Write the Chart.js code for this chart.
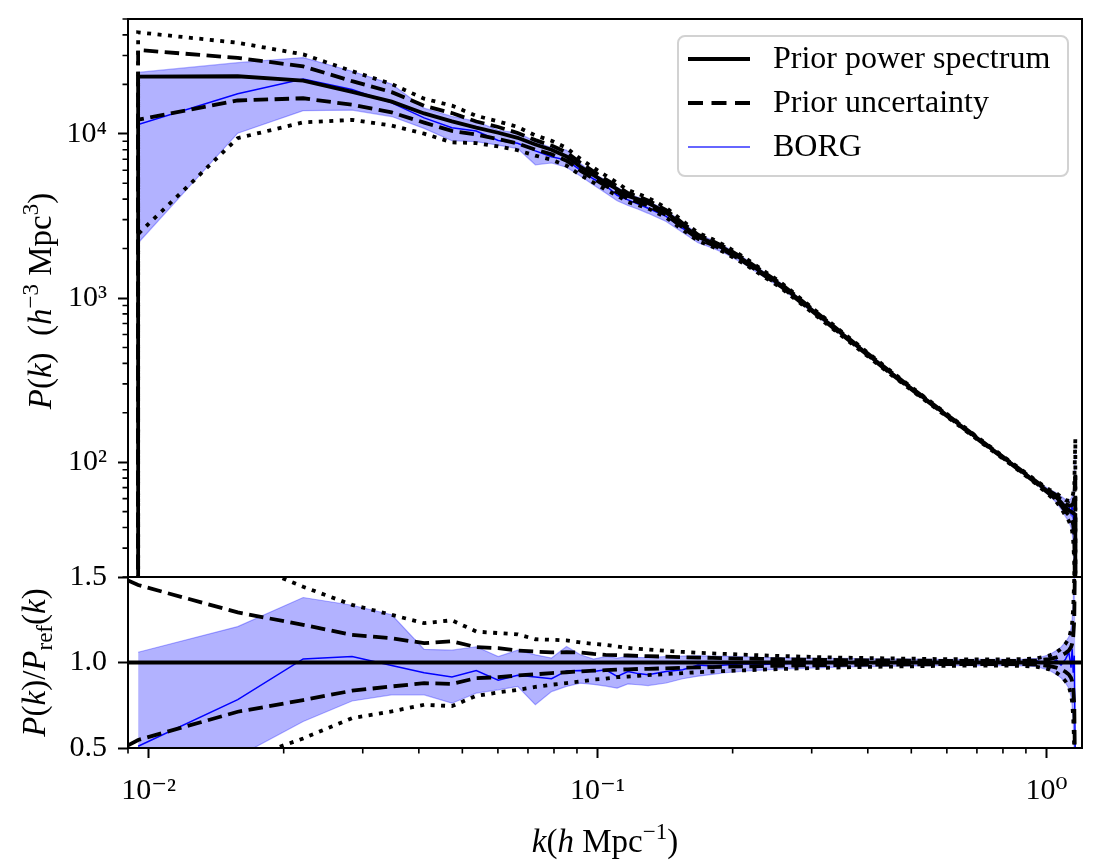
<!DOCTYPE html>
<html>
<head>
<meta charset="utf-8">
<script src="https://cdn.jsdelivr.net/npm/chart.js@4.4.1/dist/chart.umd.min.js"></script>
<style>
  html, body { margin: 0; padding: 0; background: #ffffff; }
  #wrap { position: relative; width: 1104px; height: 862px; background: #ffffff; overflow: hidden; }
  #topChart { position: absolute; left: 0; top: 0; width: 1104px; height: 578px; }
  #ratioChart { position: absolute; left: 0; top: 550px; width: 1104px; height: 312px; }
</style>
</head>
<body>
<div id="wrap">
  <canvas id="topChart" width="1104" height="578"></canvas>
  <canvas id="ratioChart" width="1104" height="312"></canvas>
</div>
<script>
// ---------------- DATA ----------------
// wavenumber bins k (h/Mpc)
const kBins = [0.00948, 0.0158, 0.0221, 0.0284, 0.0348, 0.0411, 0.0474, 0.0537, 0.0601, 0.0664,
               0.0727, 0.0790, 0.0853, 0.0916, 0.0980, 0.1043, 0.1106, 0.1169, 0.1232, 0.1296,
               0.1422, 0.1548, 0.1675, 0.1801, 0.1928, 0.2117, 0.2307, 0.2560, 0.2876, 0.3192,
               0.3571, 0.4013, 0.4456, 0.5088, 0.5720, 0.6352, 0.7110, 0.7932, 0.8880, 0.9512,
               1.0144, 1.0523, 1.0776, 1.1029, 1.1218, 1.1344, 1.1408, 1.1471, 1.1534, 1.1597];

// prior (reference) power spectrum P_ref(k) in h^-3 Mpc^3
const priorPk = [22300, 22400, 21100, 18000, 15700, 13300, 11900, 10900, 10150, 9450,
                 8600, 8000, 7270, 6300, 5600, 5050, 4600, 4180, 3990, 3790,
                 3320, 2770, 2360, 2170, 1980, 1700, 1450, 1200, 930, 741,
                 580, 450, 358, 271, 213, 172, 136, 109, 86.5, 75,
                 65.5, 61, 57, 53, 51, 50, 49.5, 49, 48.5, 48];

// prior uncertainty (1 sigma, dashed) as ratio to P_ref
const priorUpper1 = [1.453, 1.293, 1.22, 1.162, 1.142, 1.113, 1.124, 1.09, 1.084, 1.07,
                     1.064, 1.059, 1.06, 1.058, 1.05, 1.045, 1.043, 1.041, 1.039, 1.037,
                     1.034, 1.031, 1.029, 1.027, 1.025, 1.023, 1.021, 1.019, 1.017, 1.015,
                     1.014, 1.013, 1.012, 1.011, 1.01, 1.01, 1.009, 1.009, 1.01, 1.012,
                     1.02, 1.03, 1.04, 1.055, 1.07, 1.09, 1.11, 1.15, 1.25, 1.8];
const priorLower1 = [0.547, 0.712, 0.78, 0.835, 0.86, 0.879, 0.875, 0.909, 0.914, 0.924,
                     0.931, 0.938, 0.943, 0.948, 0.952, 0.955, 0.958, 0.96, 0.962, 0.963,
                     0.966, 0.969, 0.971, 0.973, 0.975, 0.977, 0.979, 0.981, 0.983, 0.985,
                     0.986, 0.987, 0.988, 0.989, 0.99, 0.99, 0.991, 0.991, 0.99, 0.988,
                     0.98, 0.97, 0.96, 0.945, 0.93, 0.91, 0.89, 0.85, 0.75, 0.2];
// prior uncertainty (2 sigma, dotted) as ratio to P_ref
const priorUpper2 = [1.86, 1.60, 1.443, 1.337, 1.279, 1.23, 1.247, 1.181, 1.172, 1.165,
                     1.136, 1.133, 1.129, 1.117, 1.109, 1.103, 1.094, 1.085, 1.08, 1.076,
                     1.068, 1.062, 1.057, 1.053, 1.05, 1.046, 1.042, 1.038, 1.034, 1.031,
                     1.028, 1.026, 1.024, 1.022, 1.02, 1.019, 1.018, 1.018, 1.02, 1.025,
                     1.04, 1.06, 1.08, 1.11, 1.14, 1.19, 1.23, 1.32, 1.5, 2.9];
const priorLower2 = [0.11, 0.42, 0.556, 0.675, 0.714, 0.753, 0.745, 0.805, 0.825, 0.84,
                     0.857, 0.87, 0.88, 0.889, 0.9, 0.905, 0.914, 0.918, 0.922, 0.926,
                     0.932, 0.938, 0.943, 0.947, 0.95, 0.954, 0.958, 0.962, 0.966, 0.969,
                     0.972, 0.974, 0.976, 0.978, 0.98, 0.981, 0.982, 0.982, 0.98, 0.975,
                     0.96, 0.94, 0.92, 0.89, 0.86, 0.81, 0.77, 0.68, 0.5, 0.02];

// BORG posterior mean and spread, as ratio to P_ref
const borgMean  = [0.51, 0.783, 1.021, 1.035, 0.982, 0.94, 0.915, 0.953, 0.897, 0.926,
                   0.915, 0.905, 0.951, 0.953, 0.947, 0.957, 0.918, 0.947, 0.935, 0.928,
                   0.947, 0.958, 0.985, 0.98, 0.986, 0.992, 0.988, 0.993, 0.996, 1.002,
                   1.0, 0.997, 1.003, 0.998, 1.002, 0.999, 1.003, 0.998, 1.004, 1.01,
                   0.99, 1.015, 0.985, 1.02, 1.06, 0.97, 1.08, 0.94, 1.04, 0.4];
const borgUpper = [1.06, 1.21, 1.38, 1.335, 1.279, 1.077, 1.072, 1.092, 1.035, 1.072,
                   1.045, 1.026, 1.094, 1.045, 1.02, 1.035, 1.026, 1.035, 1.03, 1.028,
                   1.035, 1.038, 1.04, 1.038, 1.036, 1.034, 1.03, 1.028, 1.026, 1.025,
                   1.024, 1.022, 1.021, 1.02, 1.019, 1.018, 1.018, 1.018, 1.02, 1.025,
                   1.045, 1.07, 1.09, 1.12, 1.15, 1.2, 1.25, 1.35, 1.55, 2.5];
const borgLower = [0.097, 0.45, 0.655, 0.775, 0.811, 0.811, 0.762, 0.821, 0.84, 0.86,
                   0.753, 0.83, 0.86, 0.879, 0.872, 0.862, 0.85, 0.875, 0.87, 0.865,
                   0.88, 0.905, 0.92, 0.93, 0.94, 0.95, 0.955, 0.962, 0.966, 0.97,
                   0.974, 0.976, 0.978, 0.98, 0.981, 0.982, 0.982, 0.982, 0.98, 0.975,
                   0.955, 0.93, 0.91, 0.88, 0.85, 0.8, 0.75, 0.66, 0.45, 0.02];

// value of the empty first/last bins (drawn as vertical drops on the log axis)
const emptyBinPower = 0.001;
// dashed prior band where it meets the left edge of the ratio panel
const ratioEdgeK = 0.009;
const ratioEdgeUpper1 = 1.48;
const ratioEdgeLower1 = 0.515;
// reference ratio line
const unityRatio = [1, 1];

// axes
const kRange = [0.009, 1.2];
const powerRange = [20, 50000];
const ratioRange = [0.5, 1.5];
const kMajorTicks = [0.01, 0.1, 1];
const kMajorLabels = ['10⁻²', '10⁻¹', '10⁰'];
const kMinorTicks = [0.009, 0.02, 0.03, 0.04, 0.05, 0.06, 0.07, 0.08, 0.09,
                     0.2, 0.3, 0.4, 0.5, 0.6, 0.7, 0.8, 0.9];
const powerMajorTicks = [100, 1000, 10000];
const powerMajorLabels = ['10²', '10³', '10⁴'];
const powerMinorTicks = [20, 30, 40, 50, 60, 70, 80, 90, 200, 300, 400, 500, 600, 700, 800, 900,
                         2000, 3000, 4000, 5000, 6000, 7000, 8000, 9000, 20000, 30000, 40000, 50000];
const ratioMajorTicks = [0.5, 1.0, 1.5];
const ratioMajorLabels = ['0.5', '1.0', '1.5'];

const legendLabels = ['Prior power spectrum', 'Prior uncertainty', 'BORG'];

// ---------------- STYLE ----------------
const FONT = "'Liberation Serif', 'Times New Roman', 'DejaVu Serif', serif";
const FS = 30;        // tick labels
const FS_TITLE = 33;  // axis titles
const FS_LEGEND = 32; // legend
const LW = 3.8;
const DASH = [14.5, 6.5];
const DOT = [4, 6.5];
const BLUE = 'rgb(0,0,255)';
const FILL = 'rgba(0,0,255,0.30)';

// ---------------- helpers ----------------
const pts = (vals) => kBins.map((k, i) => ({ x: k, y: vals[i] }));
const powerPts = (ratio) => kBins.map((k, i) => ({ x: k, y: priorPk[i] * ratio[i] }));
const withDrops = (arr) => [{ x: kBins[0], y: emptyBinPower }, ...arr,
                            { x: kBins[kBins.length - 1], y: emptyBinPower }];

function lineDs(data, color, width, dash, order, extra) {
  return Object.assign({
    data, borderColor: color, borderWidth: width, borderDash: dash || [],
    borderCapStyle: 'butt', borderJoinStyle: 'miter', pointRadius: 0, tension: 0,
    fill: false, order
  }, extra || {});
}

function tickSetter(majors, minors) {
  return (scale) => {
    scale.ticks = majors.map(v => ({ value: v, major: true }))
      .concat(minors.map(v => ({ value: v, major: false })));
  };
}
function labelFor(majors, labels) {
  return (value) => {
    const i = majors.findIndex(m => Math.abs(m - value) < 1e-9 * Math.max(1, m));
    return i >= 0 ? labels[i] : '';
  };
}
const majorTickColor = (c) => (c.tick && c.tick.major) ? '#000' : 'rgba(0,0,0,0)';

function drawRuns(ctx, runs, x, y, angle, size) {
  ctx.save();
  ctx.translate(x, y);
  ctx.rotate(angle);
  const fontFor = r => (r.it ? 'italic ' : '') + ((r.sup || r.sub) ? Math.round(size * 0.7) : size) + 'px ' + FONT;
  let total = 0;
  runs.forEach(r => { ctx.font = fontFor(r); r.w = ctx.measureText(r.t).width; total += r.w; });
  let cx = -total / 2;
  ctx.fillStyle = '#000';
  ctx.textAlign = 'left';
  ctx.textBaseline = 'alphabetic';
  runs.forEach(r => {
    ctx.font = fontFor(r);
    const dy = r.sup ? -size * 0.38 : (r.sub ? size * 0.22 : 0);
    ctx.fillText(r.t, cx, dy);
    cx += r.w;
  });
  ctx.restore();
}

// frame + minor ticks + titles
const decorPlugin = {
  id: 'decor',
  afterDraw(chart, args, opts) {
    const ctx = chart.ctx;
    const ca = chart.chartArea;
    ctx.save();
    ctx.strokeStyle = '#000';
    ctx.lineWidth = 1.6;
    ctx.beginPath();
    (opts.yMinor || []).forEach(v => {
      const py = chart.scales.y.getPixelForValue(v);
      ctx.moveTo(ca.left - 5.5, py); ctx.lineTo(ca.left, py);
    });
    (opts.xMinor || []).forEach(v => {
      const px = chart.scales.x.getPixelForValue(v);
      ctx.moveTo(px, ca.bottom); ctx.lineTo(px, ca.bottom + 5.5);
    });
    ctx.stroke();
    ctx.lineWidth = 2;
    ctx.strokeRect(ca.left, ca.top, ca.right - ca.left, ca.bottom - ca.top);
    ctx.restore();
    (opts.titles || []).forEach(t => {
      const p = t.at(ca);
      drawRuns(ctx, t.runs, p[0], p[1], t.angle, FS_TITLE);
    });
  }
};

const legendPlugin = {
  id: 'insetLegend',
  afterDraw(chart, args, opts) {
    if (!opts.show) return;
    const ctx = chart.ctx;
    const ca = chart.chartArea;
    const w = 390, h = 140;
    const x0 = ca.right - 14 - w, y0 = ca.top + 17;
    ctx.save();
    ctx.beginPath();
    ctx.roundRect(x0, y0, w, h, 7);
    ctx.fillStyle = 'rgba(255,255,255,0.85)';
    ctx.fill();
    ctx.lineWidth = 2;
    ctx.strokeStyle = '#d2d2d2';
    ctx.stroke();
    const styles = [
      { color: '#000', width: LW, dash: [] },
      { color: '#000', width: LW, dash: [15, 8.5] },
      { color: 'rgba(0,0,255,0.6)', width: 2, dash: [] }
    ];
    legendLabels.forEach((lab, i) => {
      const yy = y0 + 23 + i * 44;
      const s = styles[i];
      ctx.beginPath();
      ctx.setLineDash(s.dash);
      ctx.lineCap = 'butt';
      ctx.lineWidth = s.width;
      ctx.strokeStyle = s.color;
      ctx.moveTo(x0 + 10, yy); ctx.lineTo(x0 + 72, yy);
      ctx.stroke();
      ctx.setLineDash([]);
      ctx.fillStyle = '#000';
      ctx.font = FS_LEGEND + 'px ' + FONT;
      ctx.textAlign = 'left';
      ctx.textBaseline = 'middle';
      ctx.fillText(lab, x0 + 95, yy + 1);
    });
    ctx.restore();
  }
};

const tickFont = { family: FONT, size: FS };

function xScale(visible) {
  return {
    type: 'logarithmic', min: kRange[0], max: kRange[1], position: 'bottom', display: visible,
    afterBuildTicks: tickSetter(kMajorTicks, kMinorTicks),
    afterFit: (s) => { s.height = visible ? 100 : 0; s.paddingLeft = 0; s.paddingRight = 0; },
    grid: { display: true, drawOnChartArea: false, drawTicks: true, tickLength: 10, tickWidth: 2, tickColor: majorTickColor },
    border: { display: false },
    ticks: { autoSkip: false, maxRotation: 0, minRotation: 0, padding: 15, color: '#000', font: tickFont,
             callback: labelFor(kMajorTicks, kMajorLabels) }
  };
}
function yScale(type, range, majors, minors, labels) {
  return {
    type, min: range[0], max: range[1], position: 'left',
    afterBuildTicks: tickSetter(majors, minors),
    afterFit: (s) => { s.width = 100; s.paddingTop = 0; s.paddingBottom = 0; },
    grid: { display: true, drawOnChartArea: false, drawTicks: true, tickLength: 10, tickWidth: 2, tickColor: majorTickColor },
    border: { display: false },
    ticks: { autoSkip: false, padding: 11, color: '#000', font: tickFont,
             callback: labelFor(majors, labels) }
  };
}

Chart.defaults.animation = false;

// ---------------- TOP PANEL: P(k) ----------------
new Chart(document.getElementById('topChart'), {
  type: 'line',
  data: {
    datasets: [
      lineDs(withDrops(pts(priorPk)), '#000', LW, [], 0),
      lineDs(withDrops(powerPts(priorUpper1)), '#000', LW, DASH, 1),
      lineDs(withDrops(powerPts(priorLower1)), '#000', LW, DASH, 1),
      lineDs(withDrops(powerPts(priorUpper2)), '#000', LW, DOT, 2),
      lineDs(withDrops(powerPts(priorLower2)), '#000', LW, DOT, 2),
      lineDs(withDrops(powerPts(borgMean)), BLUE, 1.5, [], 3),
      lineDs(powerPts(borgUpper), FILL, 1.2, [], 4, { fill: '+1', backgroundColor: FILL }),
      lineDs(powerPts(borgLower), FILL, 1.2, [], 5)
    ]
  },
  options: {
    responsive: false, animation: false,
    layout: { padding: { left: 28, right: 22, top: 19, bottom: 1 } },
    plugins: {
      legend: { display: false }, tooltip: { enabled: false },
      decor: {
        yMinor: powerMinorTicks,
        titles: [{
          angle: -Math.PI / 2,
          at: (ca) => [51, (ca.top + ca.bottom) / 2 + 3],
          runs: [{ t: 'P', it: true }, { t: '(' }, { t: 'k', it: true }, { t: ')  (' }, { t: 'h', it: true },
                 { t: '−3', sup: true }, { t: ' Mpc' }, { t: '3', sup: true }, { t: ')' }]
        }]
      },
      insetLegend: { show: true }
    },
    scales: {
      x: xScale(false),
      y: yScale('logarithmic', powerRange, powerMajorTicks, powerMinorTicks, powerMajorLabels)
    }
  },
  plugins: [decorPlugin, legendPlugin]
});

// ---------------- BOTTOM PANEL: ratio ----------------
new Chart(document.getElementById('ratioChart'), {
  type: 'line',
  data: {
    datasets: [
      lineDs(kRange.map((k, i) => ({ x: k, y: unityRatio[i] })), '#000', LW, [], 0),
      lineDs([{ x: ratioEdgeK, y: ratioEdgeUpper1 }, ...pts(priorUpper1)], '#000', LW, DASH, 1),
      lineDs([{ x: ratioEdgeK, y: ratioEdgeLower1 }, ...pts(priorLower1)], '#000', LW, DASH, 1),
      lineDs(pts(priorUpper2), '#000', LW, DOT, 2),
      lineDs(pts(priorLower2), '#000', LW, DOT, 2),
      lineDs(pts(borgMean), BLUE, 1.5, [], 3),
      lineDs(pts(borgUpper), FILL, 1.2, [], 4, { fill: '+1', backgroundColor: FILL }),
      lineDs(pts(borgLower), FILL, 1.2, [], 5)
    ]
  },
  options: {
    responsive: false, animation: false,
    layout: { padding: { left: 28, right: 22, top: 27, bottom: 14 } },
    plugins: {
      legend: { display: false }, tooltip: { enabled: false },
      decor: {
        xMinor: kMinorTicks,
        titles: [
          { angle: -Math.PI / 2, at: (ca) => [45, (ca.top + ca.bottom) / 2],
            runs: [{ t: 'P', it: true }, { t: '(' }, { t: 'k', it: true }, { t: ')/' }, { t: 'P', it: true },
                   { t: 'ref', sub: true }, { t: '(' }, { t: 'k', it: true }, { t: ')' }] },
          { angle: 0, at: (ca) => [(ca.left + ca.right) / 2, 302],
            runs: [{ t: 'k', it: true }, { t: '(' }, { t: 'h', it: true }, { t: ' Mpc' }, { t: '−1', sup: true }, { t: ')' }] }
        ]
      },
      insetLegend: { show: false }
    },
    scales: {
      x: xScale(true),
      y: yScale('linear', ratioRange, ratioMajorTicks, [], ratioMajorLabels)
    }
  },
  plugins: [decorPlugin, legendPlugin]
});
</script>
</body>
</html>
